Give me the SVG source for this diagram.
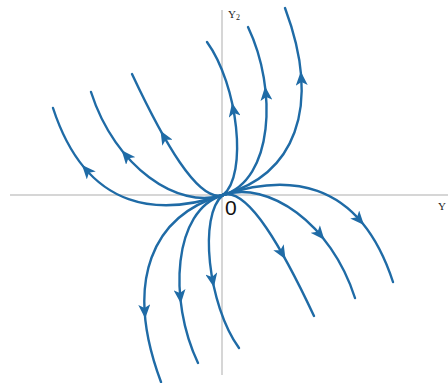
<svg xmlns="http://www.w3.org/2000/svg" width="448" height="383" viewBox="0 0 448 383">
<style>
.axis{stroke:#c9c9c9;stroke-width:1.5;fill:none}
.traj{stroke:#1f6ba6;stroke-width:2.4;fill:none;stroke-linecap:round}
.tip{stroke:none;fill:none}
.lab{font-family:"Liberation Serif","Times New Roman",serif;fill:#222}
.org{font-family:"Liberation Sans",Arial,sans-serif;fill:#111}
</style>
<defs>
<marker id="ah" viewBox="0 0 14 12" refX="14" refY="6" markerWidth="14" markerHeight="12" markerUnits="userSpaceOnUse" orient="auto">
<path d="M0,0 L14,6 L0,12 L3.5,6 Z" fill="#1f6ba6"/>
</marker>
</defs>
<g id="axes">
<line class="axis" x1="10" y1="195" x2="448" y2="195"/>
<line class="axis" x1="222" y1="10" x2="222" y2="375"/>
</g>
<g id="trajectories">
<path class="traj" d="M223,195 C163,215 88,215 53,108"/>
<path class="traj" d="M223,195 C178,210 115,167 91,92"/>
<path class="traj" d="M223,195 C198,203 163,140 132,74"/>
<path class="traj" d="M223,195 C248,175 238,85 207,42"/>
<path class="traj" d="M223,195 C273,180 278,90 248,27"/>
<path class="traj" d="M223,195 C293,175 323,110 285,8"/>
<path class="traj" d="M223,195 C283,175 358,175 393,282"/>
<path class="traj" d="M223,195 C268,180 331,223 355,298"/>
<path class="traj" d="M223,195 C248,187 283,250 314,316"/>
<path class="traj" d="M223,195 C198,215 208,305 239,348"/>
<path class="traj" d="M223,195 C173,210 168,300 198,363"/>
<path class="traj" d="M223,195 C153,215 123,280 161,382"/>
</g>
<g id="arrows">
<path class="tip" d="M90,174 L82,165" marker-end="url(#ah)"/>
<path class="tip" d="M129.4,159.5 L121.6,150.3" marker-end="url(#ah)"/>
<path class="tip" d="M166.5,141.1 L160.5,130.7" marker-end="url(#ah)"/>
<path class="tip" d="M234.3,114.6 L232.1,102.8" marker-end="url(#ah)"/>
<path class="tip" d="M266.3,98.5 L265.1,86.5" marker-end="url(#ah)"/>
<path class="tip" d="M301.6,83.4 L300.8,71.4" marker-end="url(#ah)"/>
<path class="tip" d="M356,216 L364,225" marker-end="url(#ah)"/>
<path class="tip" d="M316.6,230.5 L324.4,239.7" marker-end="url(#ah)"/>
<path class="tip" d="M279.5,248.9 L285.5,259.3" marker-end="url(#ah)"/>
<path class="tip" d="M211.7,275.4 L213.9,287.2" marker-end="url(#ah)"/>
<path class="tip" d="M179.7,291.5 L180.9,303.5" marker-end="url(#ah)"/>
<path class="tip" d="M144.4,306.6 L145.2,318.6" marker-end="url(#ah)"/>
</g>
<g id="labels">
<text class="lab" x="228" y="18" font-size="11">Y<tspan font-size="8" dy="2">2</tspan></text>
<text class="lab" x="438" y="210" font-size="11">Y</text>
<text class="org" x="225" y="215" font-size="21">0</text>
</g>
</svg>
